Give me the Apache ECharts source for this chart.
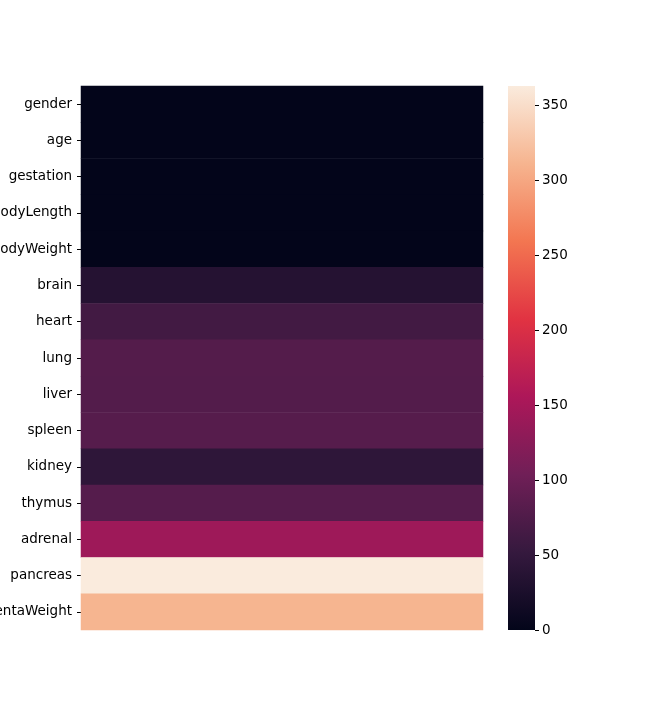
<!DOCTYPE html>
<html>
<head>
<meta charset="utf-8">
<script src="https://cdn.jsdelivr.net/npm/echarts@6/dist/echarts.min.js"></script>
<style>html,body{margin:0;padding:0;background:#fff;}#c{width:648px;height:720px;}</style>
</head>
<body>
<div id="c"></div>
<script>
const rows = ['gender','age','gestation','bodyLength','bodyWeight','brain','heart','lung','liver','spleen','kidney','thymus','adrenal','pancreas','placentaWeight'];
const values = [0, 0, 0, 0, 0, 35, 63, 79, 78, 81, 45, 80, 143, 363, 312];
const columns = [''];
const colorbarTicks = [0, 50, 100, 150, 200, 250, 300, 350];
const rocket = ['#03051a','#35193e','#701f57','#ad1759','#e13342','#f37651','#f6b48f','#faebdd'];

const vMin = 0, vMax = Math.max(...values);
const heatData = values.map((v, i) => [0, i, v]);
const font = 'DejaVu Sans';

const chart = echarts.init(document.getElementById('c'), null, {renderer: 'canvas'});
chart.setOption({
  animation: false,
  backgroundColor: '#ffffff',
  textStyle: {fontFamily: font},
  grid: [
    {left: 81, top: 86, width: 402, height: 544, containLabel: false, outerBoundsMode: 'none'},
    {left: 508, top: 86, width: 27, height: 544, containLabel: false, outerBoundsMode: 'none'}
  ],
  xAxis: [
    {gridIndex: 0, type: 'category', data: columns, show: false},
    {gridIndex: 1, type: 'category', data: [''], show: false}
  ],
  yAxis: [
    {gridIndex: 0, type: 'category', data: rows, inverse: true,
     axisLine: {show: false},
     axisTick: {show: true, alignWithLabel: true, length: 4, lineStyle: {color: '#000', width: 1}},
     axisLabel: {color: '#000', fontSize: 13.5, fontFamily: font, margin: 9},
     splitLine: {show: false}},
    {gridIndex: 1, type: 'value', min: vMin, max: vMax, position: 'right',
     axisLine: {show: false},
     axisTick: {show: true, length: 4, customValues: colorbarTicks, lineStyle: {color: '#000', width: 1}},
     axisLabel: {color: '#000', fontSize: 13.5, fontFamily: font, margin: 7, customValues: colorbarTicks},
     splitLine: {show: false}}
  ],
  visualMap: {
    show: false, type: 'continuous', min: vMin, max: vMax, seriesIndex: 0, dimension: 2,
    inRange: {color: rocket}
  },
  series: [
    {type: 'heatmap', xAxisIndex: 0, yAxisIndex: 0, data: heatData, itemStyle: {borderWidth: 0}},
    {type: 'bar', xAxisIndex: 1, yAxisIndex: 1, data: [vMax], barWidth: '100%', silent: true,
     itemStyle: {color: new echarts.graphic.LinearGradient(0, 1, 0, 0,
       rocket.map((c, i) => ({offset: i / (rocket.length - 1), color: c})))}}
  ]
});
</script>
</body>
</html>
